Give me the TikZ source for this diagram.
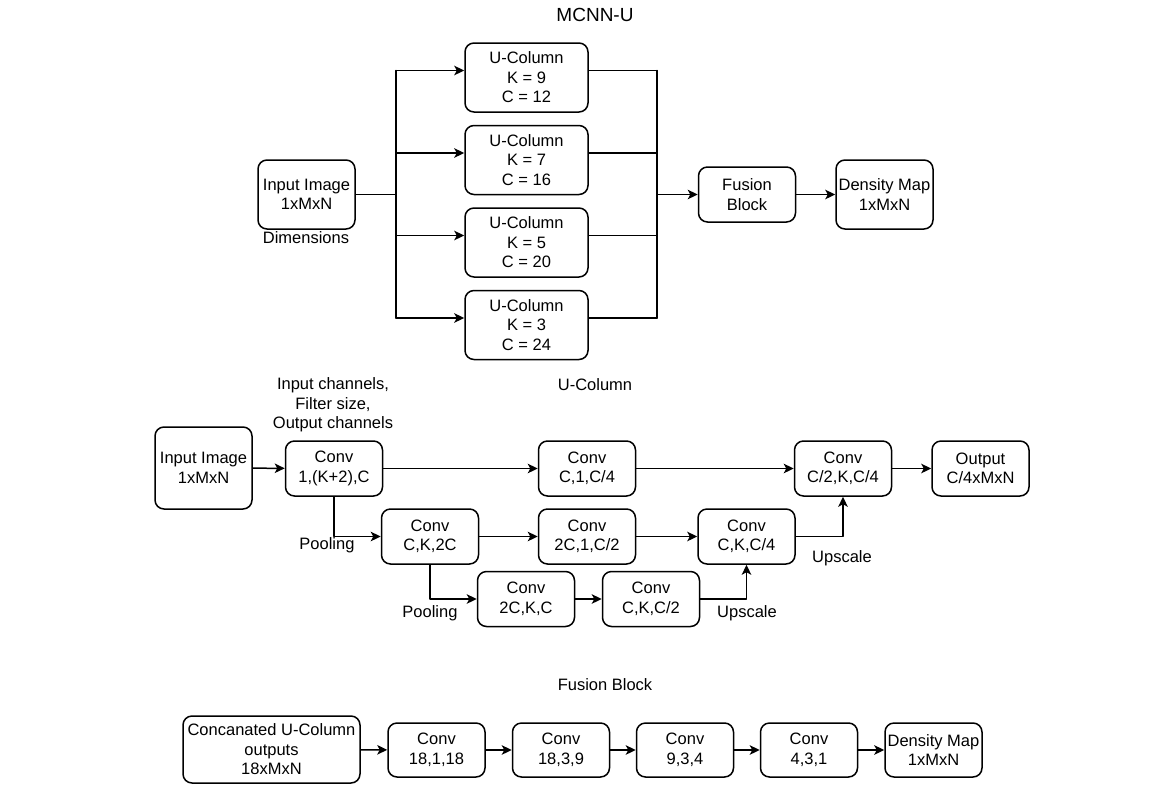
\documentclass[tikz,border=0pt]{standalone}
\usepackage{fontspec}
\setmainfont{Liberation Sans}
\usetikzlibrary{arrows}
\usetikzlibrary{arrows.meta,calc}

\begin{document}
\begin{tikzpicture}[line cap=round,line join=round,>={Stealth[length=10pt,width=9.5pt,inset=2.5pt]},x=1pt,y=-1pt,
    every node/.style={font=\fontsize{16.5}{19.5}\selectfont},
    blk/.style={draw,line width=1.5pt,rounded corners=9pt,align=center,inner sep=0pt,minimum width=97pt,minimum height=55pt},
    tallblk/.style={blk,minimum height=69pt},
    lbl/.style={align=center,inner sep=0pt},
    ttl/.style={lbl,font=\fontsize{19}{22}\selectfont},
    wire/.style={line width=1.5pt}]
    \useasboundingbox (0,0) rectangle (1170,785);

    \node[ttl] (ttlmcnn) at (595,15) {MCNN-U};
    \node[tallblk] (inimg) at (306.5,194.5) {Input Image\\1xMxN};
    \node[lbl] (dims) at (306,238) {Dimensions};
    \node[tallblk,minimum width=123pt] (ucol1) at (526.5,77.5) {U-Column\\K = 9\\C = 12};
    \node[tallblk,minimum width=123pt] (ucol2) at (526.5,160) {U-Column\\K = 7\\C = 16};
    \node[tallblk,minimum width=123pt] (ucol3) at (526.5,242.5) {U-Column\\K = 5\\C = 20};
    \node[tallblk,minimum width=123pt] (ucol4) at (526.5,325) {U-Column\\K = 3\\C = 24};
    \node[blk] (fusion) at (747,194.5) {Fusion\\Block};
    \node[tallblk] (dmap) at (884.5,194.5) {Density Map\\1xMxN};
    \coordinate (split) at (396,194.5);
    \coordinate (merge) at (657,194.5);
    \coordinate (splittop) at ($(split |- ucol1.west)+(0,-7)$);
    \coordinate (splitbot) at ($(split |- ucol4.west)+(0,-7)$);
    \coordinate (mergetop) at ($(merge |- ucol1.east)+(0,-7)$);
    \coordinate (mergebot) at ($(merge |- ucol4.east)+(0,-7)$);
    \draw[wire] (inimg.east) -- (split);
    \draw[wire] (splittop) -- (splitbot);
    \draw[wire] (mergetop) -- (mergebot);
    \foreach \u in {ucol1,ucol2,ucol3,ucol4}
    {
        \draw[wire,->] ($(split |- \u.west)+(0,-7)$) -- ($(\u.west)+(0,-7)$);
        \draw[wire] ($(\u.east)+(0,-7)$) -- ($(merge |- \u.east)+(0,-7)$);
    }
    \draw[wire,->] (merge) -- (fusion.west);
    \draw[wire,->] (fusion.east) -- (dmap.west);

    \node[lbl] (chnote) at (333,405) {Input channels,\\Filter size,\\Output channels};
    \node[lbl] (ttlucol) at (595,385) {U-Column};
    \node[blk,minimum height=82pt] (uin) at (203.5,468) {Input Image\\1xMxN};
    \node[blk] (conva) at (334,468.5) {Conv\\1,(K+2),C};
    \node[blk] (convb) at (587,468.5) {Conv\\C,1,C/4};
    \node[blk] (convc) at (430,536.5) {Conv\\C,K,2C};
    \node[blk] (convd) at (587,536.5) {Conv\\2C,1,C/2};
    \node[blk] (conve) at (526,599) {Conv\\2C,K,C};
    \node[blk] (convf) at (651,599) {Conv\\C,K,C/2};
    \node[blk] (convg) at (746.5,536.5) {Conv\\C,K,C/4};
    \node[blk] (convh) at (843,468.5) {Conv\\C/2,K,C/4};
    \node[blk] (uout) at (980.5,468.5) {Output\\C/4xMxN};
    \node[lbl] (poola) at (327,545) {Pooling};
    \node[lbl] (poolb) at (430,613) {Pooling};
    \node[lbl] (upa) at (747,613) {Upscale};
    \node[lbl] (upb) at (842,558) {Upscale};
    \draw[wire,->] (uin) -- (conva);
    \draw[wire,->] (conva) -- (convb);
    \draw[wire,->] (convb) -- (convh);
    \draw[wire,->] (conva.south) |- (convc.west);
    \draw[wire,->] (convc) -- (convd);
    \draw[wire,->] (convd) -- (convg);
    \draw[wire,->] (convc.south) |- (conve.west);
    \draw[wire,->] (conve) -- (convf);
    \draw[wire,->] (convf.east) -| (convg.south);
    \draw[wire,->] (convg.east) -| (convh.south);
    \draw[wire,->] (convh) -- (uout);

    \node[lbl] (ttlfuse) at (605,685) {Fusion Block};
    \node[blk,minimum width=177pt,minimum height=67pt] (concat) at (271.5,749.5) {Concanated U-Column\\outputs\\18xMxN};
    \node[blk,minimum height=54pt] (fconva) at (436.5,750) {Conv\\18,1,18};
    \node[blk,minimum height=54pt] (fconvb) at (561,750) {Conv\\18,3,9};
    \node[blk,minimum height=54pt] (fconvc) at (685,750) {Conv\\9,3,4};
    \node[blk,minimum height=54pt] (fconvd) at (809,750) {Conv\\4,3,1};
    \node[blk,minimum height=54pt] (fmap) at (933.5,750) {Density Map\\1xMxN};
    \draw[wire,->] (concat) -- (fconva);
    \draw[wire,->] (fconva) -- (fconvb);
    \draw[wire,->] (fconvb) -- (fconvc);
    \draw[wire,->] (fconvc) -- (fconvd);
    \draw[wire,->] (fconvd) -- (fmap);
\end{tikzpicture}
\end{document}
